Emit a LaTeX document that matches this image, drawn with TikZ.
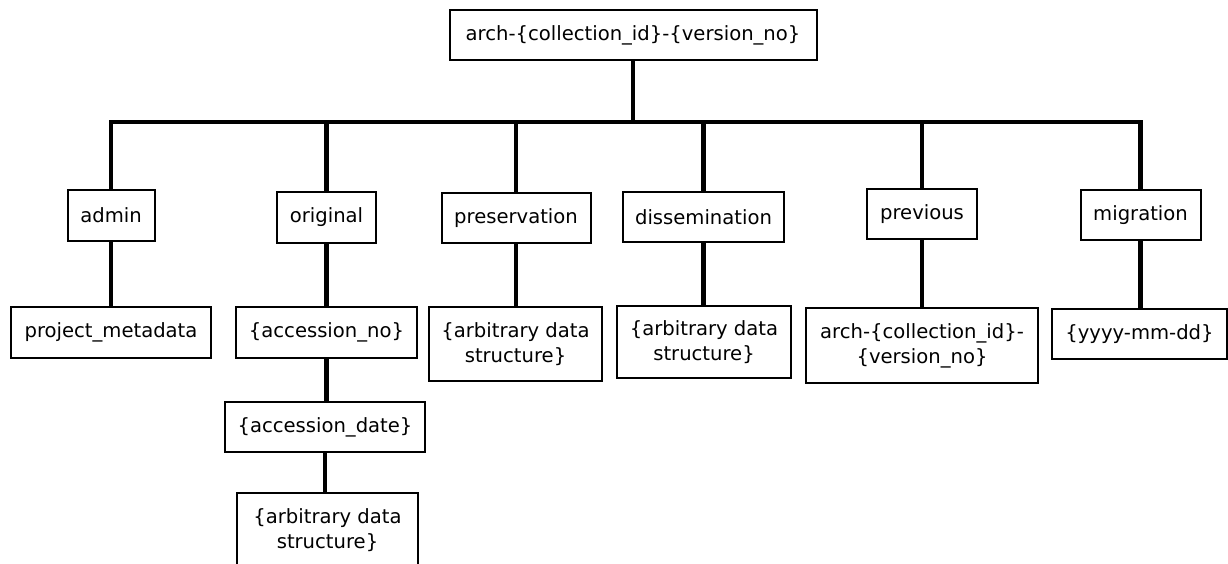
\documentclass[tikz,border=0pt]{standalone}
\usepackage{fontspec}
\setmainfont{DejaVu Sans}
\begin{document}
\begin{tikzpicture}[x=1pt,y=-1pt,
  box/.style={draw=black, line width=2pt, fill=white, inner sep=0pt,
    align=center, font=\fontsize{19.6}{25}\selectfont},
  conn/.style={line width=4.5pt}]
\useasboundingbox (0,0) rectangle (1228,564);
\clip (0,0) rectangle (1228,564);

% root folder
\node[box, minimum width=367pt, minimum height=50pt] (root) at (633,35)
  {arch-\{collection\_id\}-\{version\_no\}};
\coordinate (bus) at (633,122);

% first level folders
\node[box, minimum width=87pt,  minimum height=51pt] (admin) at (111,215.5) {admin};
\node[box, minimum width=99pt,  minimum height=51pt] (orig)  at (326.5,217.5) {original};
\node[box, minimum width=149pt, minimum height=50pt] (pres)  at (516,218) {preservation};
\node[box, minimum width=161pt, minimum height=50pt] (diss)  at (703.5,217) {dissemination};
\node[box, minimum width=110pt, minimum height=50pt] (prev)  at (922,214) {previous};
\node[box, minimum width=120pt, minimum height=50pt] (migr)  at (1140.5,215) {migration};

% second level
\node[box, minimum width=200pt, minimum height=51pt] (pm)    at (111,332.5) {project\_metadata};
\node[box, minimum width=181pt, minimum height=51pt] (accno) at (326.5,332.5) {\{accession\_no\}};
\node[box, minimum width=173pt, minimum height=74pt] (presd) at (515.5,344) {\{arbitrary data\\structure\}};
\node[box, minimum width=174pt, minimum height=72pt] (dissd) at (704,342) {\{arbitrary data\\structure\}};
\node[box, minimum width=232pt, minimum height=75pt] (preva) at (922,345.5) {arch-\{collection\_id\}-\\\{version\_no\}};
\node[box, minimum width=175pt, minimum height=50pt] (date)  at (1139.5,334) {\{yyyy-mm-dd\}};

% accession chain
\node[box, minimum width=200pt, minimum height=50pt] (accd)  at (325,427) {\{accession\_date\}};
\node[box, minimum width=181pt, minimum height=74pt] (origd) at (327.5,530) {\{arbitrary data\\structure\}};

% connectors: trunk, bus and branches
\draw[conn] (root.south) -- (bus);
\foreach \n in {admin,orig,pres,diss,prev,migr}
  \draw[conn] (\n.north) |- (bus);
\draw[conn] (admin.south) -- (admin.south |- pm.north);
\draw[conn] (orig.south)  -- (orig.south |- accno.north);
\draw[conn] (pres.south)  -- (pres.south |- presd.north);
\draw[conn] (diss.south)  -- (diss.south |- dissd.north);
\draw[conn] (prev.south)  -- (prev.south |- preva.north);
\draw[conn] (migr.south)  -- (migr.south |- date.north);
\draw[conn] (accno.south) -- (accno.south |- accd.north);
\draw[conn] (accd.south)  -- (accd.south |- origd.north);
\end{tikzpicture}
\end{document}
